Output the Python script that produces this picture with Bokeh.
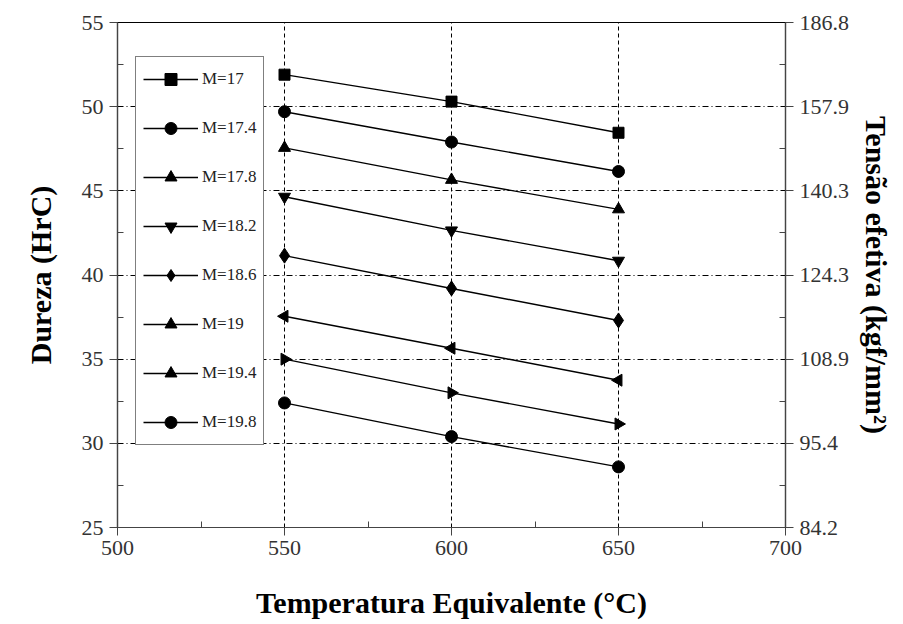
import numpy as np
from bokeh.plotting import figure
from bokeh.models import LinearAxis, Legend, LegendItem, FixedTicker, Range1d, Title
from bokeh.embed import file_html
from bokeh.resources import INLINE

temps = [550, 600, 650]
series_names = ["M=17", "M=17.4", "M=17.8", "M=18.2", "M=18.6", "M=19", "M=19.4", "M=19.8"]
m17 = [51.9, 50.3, 48.45]
m174 = [49.7, 47.9, 46.15]
m178 = [47.55, 45.65, 43.9]
m182 = [44.65, 42.65, 40.85]
m186 = [41.15, 39.2, 37.3]
m19 = [37.55, 35.65, 33.75]
m194 = [35.0, 33.0, 31.15]
m198 = [32.4, 30.4, 28.6]
series_values = [m17, m174, m178, m182, m186, m19, m194, m198]
markers = ["square", "circle", "triangle", "inverted_triangle", "diamond", "triangle", "triangle", "circle"]
angles = [0, 0, 0, 0, 0, np.pi / 2, -np.pi / 2, 0]
sizes = [11, 12, 12, 12, 15, 12, 12, 12]

left_ticks = [25, 30, 35, 40, 45, 50, 55]
right_labels = ["84.2", "95.4", "108.9", "124.3", "140.3", "157.9", "186.8"]
x_ticks = [500, 550, 600, 650, 700]

FONT = "Liberation Serif"

p = figure(frame_width=668, frame_height=505, min_border_left=117, min_border_right=115,
           min_border_top=22, min_border_bottom=95,
           x_range=Range1d(500, 700), y_range=Range1d(25, 55),
           output_backend="svg", toolbar_location=None,
           background_fill_color="white", border_fill_color="white")
p.outline_line_color = "black"
p.outline_line_width = 1.2

# grid
p.xgrid.ticker = FixedTicker(ticks=[550, 600, 650])
p.ygrid.ticker = FixedTicker(ticks=[30, 35, 40, 45, 50])
p.xgrid.grid_line_dash = "4 3"
p.ygrid.grid_line_dash = "6 3 1 3"
for g in (p.xgrid, p.ygrid):
    g.grid_line_color = "black"
    g.grid_line_width = 1

# axes styling
xa = p.xaxis[0]
xa.ticker = FixedTicker(ticks=x_ticks, minor_ticks=[525, 575, 625, 675])
xa.axis_label = "Temperatura Equivalente (°C)"
ya = p.yaxis[0]
ya.ticker = FixedTicker(ticks=left_ticks, minor_ticks=[27.5, 32.5, 37.5, 42.5, 47.5, 52.5])
ya.axis_label = "Dureza (HrC)"

ra = LinearAxis()
ra.ticker = FixedTicker(ticks=left_ticks, minor_ticks=[27.5, 32.5, 37.5, 42.5, 47.5, 52.5])
ra.major_label_overrides = {t: l for t, l in zip(left_ticks, right_labels)}
p.add_layout(ra, "right")

right_title = Title(text="Tensão efetiva (kgf/mm²)", align="center",
                    text_font=FONT, text_font_style="bold", text_font_size="30px",
                    text_color="black", standoff=14, offset=0)
p.add_layout(right_title, "right")

for ax in (xa, ya, ra):
    ax.axis_line_color = "#444444"
    ax.axis_line_width = 1.2
    ax.major_tick_line_color = "#444444"
    ax.minor_tick_line_color = "#444444"
    ax.major_tick_out = 8
    ax.major_tick_in = 0
    ax.minor_tick_in = 6
    ax.minor_tick_out = 0
    ax.major_label_text_font = FONT
    ax.major_label_text_font_size = "22px"
    ax.major_label_text_color = "#333333"
    ax.axis_label_text_font = FONT
    ax.axis_label_text_font_style = "bold"
    ax.axis_label_text_font_size = "30px"
    ax.axis_label_text_color = "black"
xa.axis_label_standoff = 28
ya.axis_label_standoff = 22
xa.major_label_standoff = 5
ya.major_label_standoff = 6
ra.major_label_standoff = 6

items = []
for name, vals, mk, ang, sz in zip(series_names, series_values, markers, angles, sizes):
    r1 = p.line(temps, vals, line_color="black", line_width=1.4)
    r2 = p.scatter(temps, vals, marker=mk, angle=ang, size=sz, fill_color="black",
                   line_color="black")
    items.append(LegendItem(label=name, renderers=[r1, r2]))

legend = Legend(items=items, location=(18, 82))
legend.border_line_color = "black"
legend.border_line_width = 1.5
legend.label_text_font = FONT
legend.label_text_font_size = "17px"
legend.label_text_color = "#222222"
legend.glyph_width = 55
legend.glyph_height = 30
legend.label_height = 30
legend.spacing = 19
legend.padding = 7
legend.margin = 0
legend.label_standoff = 4
legend.background_fill_alpha = 1
p.add_layout(legend, "center")

open("out.html", "w").write(file_html(p, INLINE))
